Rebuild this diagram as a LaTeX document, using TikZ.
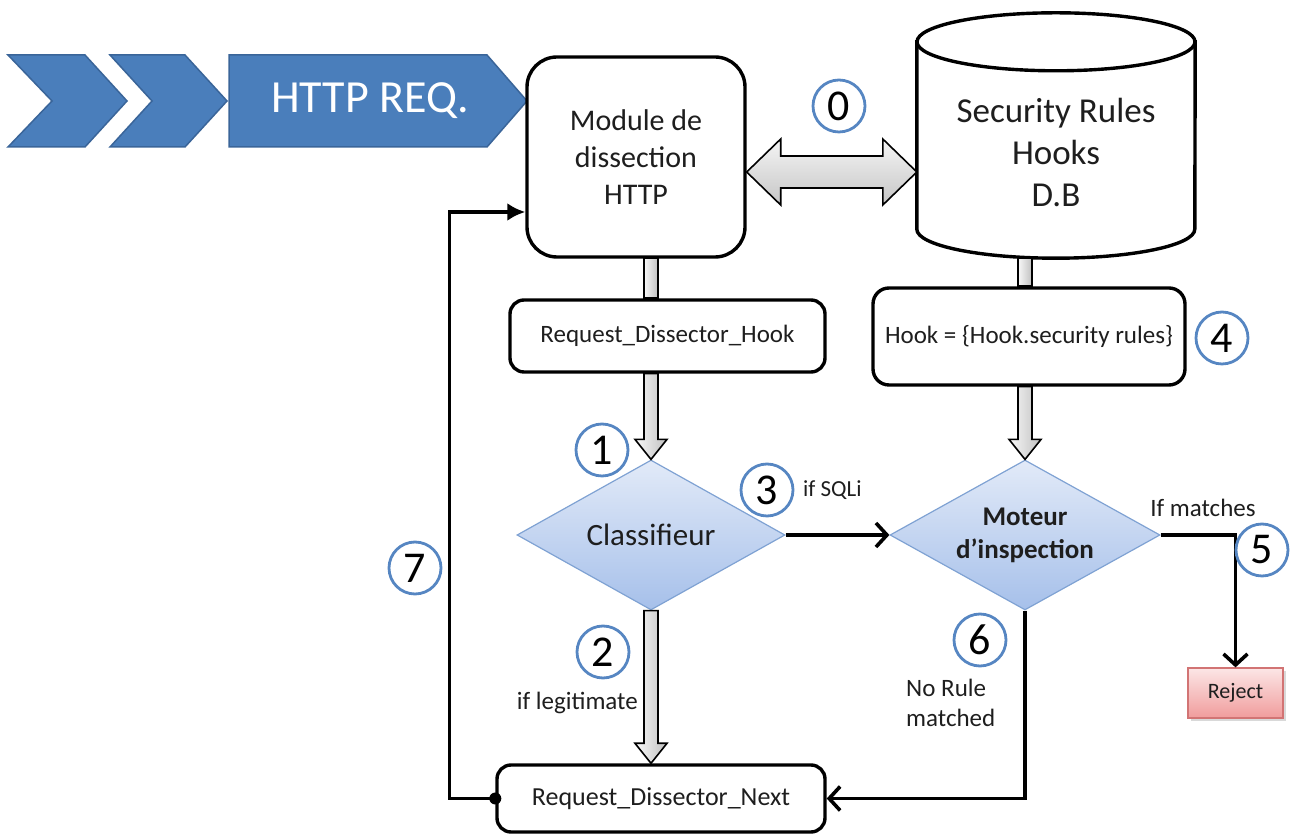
\documentclass[tikz,border=0pt]{standalone}
\usepackage{fontspec}
\setmainfont{Carlito}
\usetikzlibrary{shapes.geometric,arrows.meta,calc,shadows}

\definecolor{chevblue}{HTML}{4A7EBB}
\definecolor{chevedge}{HTML}{3A6599}
\definecolor{diamtop}{HTML}{E2EAF8}
\definecolor{diambot}{HTML}{A6C0EA}
\definecolor{diamedge}{HTML}{7FA2D3}
\definecolor{numblue}{HTML}{5686C2}
\definecolor{rejtop}{HTML}{FCE6E6}
\definecolor{rejbot}{HTML}{F09C9C}
\definecolor{rejedge}{HTML}{D27474}
\definecolor{ink}{HTML}{1E1E1E}

\newcommand{\setfs}[2]{\fontsize{#1}{#2}\selectfont}

% narrow grey block arrows
\newcommand{\fatshaft}[2]{%
  \draw[fatline, left color=gray!5, right color=gray!50]
    ($(#1)+(-7,0)$) rectangle ($(#2)+(7,0)$);}
\newcommand{\fatarrow}[2]{%
  \draw[fatline, left color=gray!5, right color=gray!50]
    ($(#1)+(-7,0)$) -- ($(#2)+(-7,20)$) -- ($(#2)+(-16,20)$) -- (#2)
    -- ($(#2)+(16,20)$) -- ($(#2)+(7,20)$) -- ($(#1)+(7,0)$) -- cycle;}

\begin{document}
\begin{tikzpicture}[x=1pt, y=1pt, text=ink,
  every node/.style = {align=center},
  box/.style = {draw=black, line width=3.4pt, fill=white, rounded corners=14pt,
    inner sep=0pt},
  modbox/.style = {box, rounded corners=30pt, minimum width=218pt,
    minimum height=200pt, font=\setfs{30}{37}},
  dbbox/.style = {minimum width=278pt, minimum height=245pt, inner sep=0pt},
  dbline/.style = {draw=black, line width=3.4pt, fill=white},
  decision/.style = {diamond, aspect=1.8, inner sep=0pt, minimum width=268pt,
    minimum height=150pt, draw=diamedge, line width=1.2pt,
    top color=diamtop, bottom color=diambot},
  rejectbox/.style = {rectangle, draw=rejedge, line width=1.2pt,
    top color=rejtop, bottom color=rejbot, minimum width=95pt,
    minimum height=50pt, font=\setfs{22}{26},
    drop shadow={shadow xshift=3pt, shadow yshift=-3pt, opacity=0.3}},
  num/.style = {circle, draw=numblue, line width=2.8pt, fill=white,
    minimum size=52pt, inner sep=0pt, text=black, font=\setfs{44}{44}},
  lbl/.style = {inner sep=0pt, font=\setfs{25}{30}},
  link/.style = {draw=black, line width=3.6pt},
  fatline/.style = {draw=black, line width=1.6pt, line join=miter},
  chevron/.style = {fill=chevblue, draw=chevedge, line width=1.5pt}]

\useasboundingbox (0,0) rectangle (1307,835);

% incoming request
\draw[chevron] (8,780) -- (85,780) -- (127,734) -- (85,688) -- (8,688)
  -- (52,734) -- cycle;
\draw[chevron] (110,780) -- (185,780) -- (227,734) -- (185,688) -- (110,688)
  -- (152,734) -- cycle;
\draw[chevron] (229,780) -- (487,780) -- (527,734) -- (487,688) -- (229,688)
  -- cycle;
\node[text=white, font=\setfs{46}{50}] (req) at (370,734) {HTTP REQ.};

\node[modbox] (mod) at (636,678) {Module de\\dissection\\HTTP};

% database
\node[dbbox] (db) at (1056,699.5) {};
\draw[dbline] ($(db.north west)+(0,-29)$) -- ($(db.south west)+(0,29)$)
  arc[start angle=180, end angle=360, x radius=139, y radius=29]
  -- ($(db.north east)+(0,-29)$) -- cycle;
\draw[dbline] ($(db.north)+(0,-29)$) ellipse[x radius=139, y radius=29];
\node[font=\setfs{35}{42}] (dbtxt) at (1056,683) {Security Rules\\Hooks\\D.B};

\coordinate (dl) at ($(mod.east)+(0,-15)$);
\coordinate (dr) at (dl -| db.west);
\draw[fatline, top color=gray!8, bottom color=gray!45]
  (dl) -- ++(34,33) -- ++(0,-17) -- ($(dr)+(-34,16)$) -- ++(0,17) -- (dr)
  -- ++(-34,-33) -- ++(0,17) -- ($(dl)+(34,-16)$) -- ++(0,-17) -- cycle;

\node[box, minimum width=315pt, minimum height=72pt, font=\setfs{25}{30}]
  (rdh) at (667.5,499) {Request\_Dissector\_Hook};
\node[box, rounded corners=16pt, minimum width=312pt, minimum height=97pt,
  font=\setfs{25}{30}] (hook) at (1029,498.5) {Hook = \{Hook.security rules\}};

\node[decision, font=\setfs{31}{36}] (cls) at (651,300) {Classifieur};
\node[decision, minimum width=270pt, font=\setfs{27}{33}\bfseries]
  (mot) at (1025,300) {Moteur\\d’inspection};

\node[rejectbox] (rej) at (1235.5,142) {Reject};
\node[box, minimum width=328pt, minimum height=67pt, font=\setfs{26}{30}]
  (rdn) at (661,36.5) {Request\_Dissector\_Next};

% block arrows
\fatshaft{mod.south -| cls.north}{rdh.north -| cls.north}
\fatarrow{rdh.south -| cls.north}{cls.north}
\fatshaft{db.south -| mot.north}{hook.north -| mot.north}
\fatarrow{hook.south -| mot.north}{mot.north}
\fatarrow{cls.south}{rdn.north -| cls.south}

% connectors
\draw[link, -{Straight Barb[length=11pt, width=24pt]}] (cls.east) -- (mot.west);
\draw[link, -{Straight Barb[length=11pt, width=24pt]}] (mot.east) -| (rej.north);
\draw[link, -{Straight Barb[length=11pt, width=24pt]}] (mot.south) |- (rdn.east);
\draw[link, -{Latex[length=18pt, width=18pt]}] (rdn.west) -- ++(-46,0)
  |- ($(mod.west)+(0,-55)$);
\fill (rdn.west) circle[radius=6];

% labels
\node[lbl, anchor=west, font=\setfs{23}{28}] (sqli) at (803,345) {if SQLi};
\node[lbl] (match) at (1203,327) {If matches};
\node[lbl, anchor=east] (legit) at (638,132) {if legitimate};
\node[lbl, anchor=west, align=left] (norule) at (906,132) {No Rule\\matched};

% step numbers
\node[num] (n0) at (839,729) {0};
\node[num] (n1) at (602,385) {1};
\node[num] (n2) at (603,183) {2};
\node[num] (n3) at (767,345) {3};
\node[num] (n4) at (1222,497) {4};
\node[num] (n5) at (1262,285) {5};
\node[num] (n6) at (980,195) {6};
\node[num] (n7) at (415,267) {7};
\end{tikzpicture}
\end{document}
